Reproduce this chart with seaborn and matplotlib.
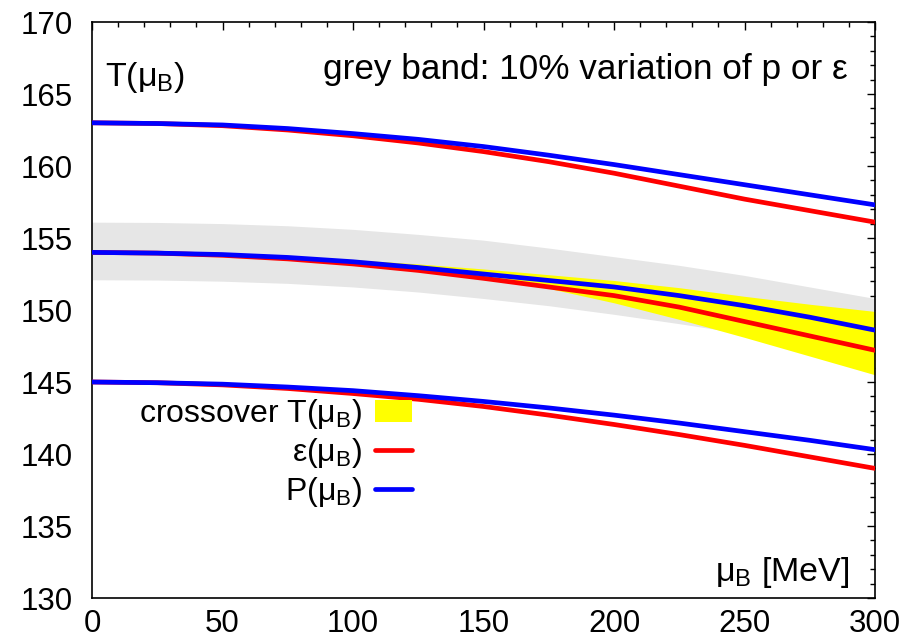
import numpy as np
import pandas as pd
import matplotlib
matplotlib.use("Agg")
import matplotlib.pyplot as plt
import seaborn as sns
from matplotlib.patches import Patch
from matplotlib.lines import Line2D
from matplotlib.ticker import MultipleLocator

# ---- data ----
mu_B = [0, 25, 50, 75, 100, 125, 150, 175, 200, 225, 250, 275, 300]

eps_top = [163.0, 162.95, 162.8, 162.5, 162.1, 161.6, 161.0, 160.3, 159.5, 158.6, 157.7, 156.9, 156.1]
p_top = [163.0, 162.95, 162.85, 162.6, 162.25, 161.85, 161.35, 160.75, 160.1, 159.4, 158.7, 158.0, 157.3]

eps_mid = [154.0, 153.95, 153.8, 153.55, 153.2, 152.75, 152.2, 151.6, 151.0, 150.2, 149.2, 148.2, 147.2]
p_mid = [154.0, 153.95, 153.85, 153.65, 153.35, 152.95, 152.5, 152.05, 151.6, 151.0, 150.3, 149.5, 148.6]

eps_low = [145.0, 144.95, 144.8, 144.55, 144.2, 143.8, 143.3, 142.7, 142.05, 141.35, 140.6, 139.8, 139.0]
p_low = [145.0, 144.95, 144.85, 144.65, 144.4, 144.05, 143.65, 143.2, 142.7, 142.15, 141.55, 140.95, 140.3]

cross_upper = [154.05, 154.0, 153.9, 153.75, 153.5, 153.2, 152.85, 152.45, 152.05, 151.55, 150.95, 150.4, 149.9]
cross_lower = [153.95, 153.9, 153.75, 153.5, 153.2, 152.85, 152.3, 151.5, 150.5, 149.35, 148.1, 146.8, 145.5]

grey_upper = [156.1, 156.08, 156.0, 155.85, 155.6, 155.25, 154.85, 154.3, 153.7, 153.1, 152.4, 151.6, 150.8]
grey_lower = [152.1, 152.08, 152.0, 151.85, 151.6, 151.25, 150.8, 150.3, 149.7, 149.05, 148.35, 147.6, 146.8]

x_ticks = [0, 50, 100, 150, 200, 250, 300]
y_ticks = [130, 135, 140, 145, 150, 155, 160, 165, 170]

# ---- style ----
sns.set_style("white")
plt.rcParams["font.family"] = ["Liberation Sans", "DejaVu Sans"]
plt.rcParams["mathtext.fontset"] = "custom"
plt.rcParams["mathtext.rm"] = "Liberation Sans"
plt.rcParams["mathtext.it"] = "Liberation Sans"
plt.rcParams["mathtext.bf"] = "Liberation Sans"
for k in ["text.color", "axes.labelcolor", "xtick.color", "ytick.color", "axes.edgecolor"]:
    plt.rcParams[k] = "black"
FS_TICK = 22.5
FS_LEG = 23
FS_NOTE = 25.3
FS_LAB = 24.5

fig = plt.figure(figsize=(9.21, 6.44), dpi=100)
ax = fig.add_axes([92 / 921, 46 / 644, 783 / 921, 576 / 644])

RED = "#ff0000"
BLUE = "#0000ff"
YELLOW = "#ffff00"
GREY = "#e6e6e6"

ax.fill_between(mu_B, grey_lower, grey_upper, color=GREY, lw=0, zorder=1)
ax.fill_between(mu_B, cross_lower, cross_upper, color=YELLOW, lw=0, zorder=2)

rows = []
for grp, (e, p) in enumerate([(eps_top, p_top), (eps_mid, p_mid), (eps_low, p_low)]):
    for m, v in zip(mu_B, e):
        rows.append({"mu": m, "T": v, "kind": "eps", "grp": grp})
    for m, v in zip(mu_B, p):
        rows.append({"mu": m, "T": v, "kind": "p", "grp": grp})
df = pd.DataFrame(rows)

LW = 3.4
for grp in range(3):
    for kind, col in [("eps", RED), ("p", BLUE)]:
        sub = df[(df.grp == grp) & (df.kind == kind)]
        sns.lineplot(data=sub, x="mu", y="T", color=col, lw=LW, ax=ax,
                     estimator=None, sort=True, legend=False, zorder=3)

ax.set_xlim(0, 300)
ax.set_ylim(130, 170)
ax.set_xticks(x_ticks)
ax.set_yticks(y_ticks)
ax.xaxis.set_minor_locator(MultipleLocator(10))
ax.yaxis.set_minor_locator(MultipleLocator(1))
ax.set_xlabel("")
ax.set_ylabel("")
ax.tick_params(which="both", direction="in", top=True, right=True, color="black", width=1.0)
ax.tick_params(which="major", length=6, labelsize=FS_TICK)
ax.tick_params(which="minor", length=3.5)
ax.tick_params(axis="x", which="major", pad=8)
ax.tick_params(axis="y", which="major", pad=14)
for s in ax.spines.values():
    s.set_visible(True)
    s.set_color("black")
    s.set_linewidth(1.2)

ax.text(13 / 783, 0.903, "T(μ$_\\mathrm{B}$)", transform=ax.transAxes,
        fontsize=FS_LAB, ha="left", va="center")
ax.text(0.9655, 0.917, "grey band: 10% variation of p or ε", transform=ax.transAxes,
        fontsize=FS_NOTE, ha="right", va="center")
ax.text(0.968, 0.045, "μ$_\\mathrm{B}$ [MeV]", transform=ax.transAxes,
        fontsize=FS_LAB, ha="right", va="center")

handles = [Patch(facecolor=YELLOW, edgecolor="none"),
           Line2D([], [], color=RED, lw=LW),
           Line2D([], [], color=BLUE, lw=LW)]
labels = ["crossover T(μ$_\\mathrm{B}$)", "ε(μ$_\\mathrm{B}$)", "P(μ$_\\mathrm{B}$)"]
ax.legend(handles, labels, loc="center right", bbox_to_anchor=((412 - 92) / 783, (598 - 453) / 576),
          frameon=False, markerfirst=False, fontsize=FS_LEG, handlelength=1.15,
          handletextpad=0.4, labelspacing=0.15, borderpad=0, borderaxespad=0)

fig.savefig("out.png", dpi=100)
